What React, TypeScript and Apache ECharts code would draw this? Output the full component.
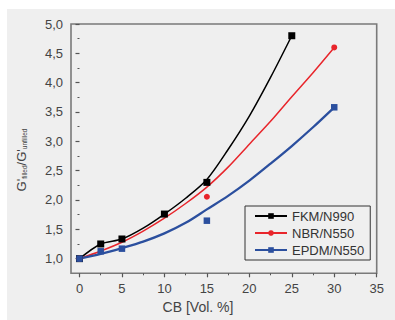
import React, { useEffect, useRef } from "react";
import * as echarts from "echarts";

// Measured data points
const cbFKM = [0, 2.5, 5, 10, 15, 25];
const valFKM = [1.0, 1.25, 1.335, 1.76, 2.3, 4.8];
const cbNBR = [0, 15, 30];
const valNBR = [1.0, 2.055, 4.6];
const cbEPDM = [0, 2.5, 5, 15, 30];
const valEPDM = [1.0, 1.125, 1.17, 1.647, 3.58];

// Curves
const cbCurveFKM = [0, 2.5, 5, 7.5, 10, 12.5, 15, 17.5, 20, 22.5, 25];
const curveFKM = [1.0, 1.25, 1.335, 1.52, 1.76, 2.03, 2.35, 2.86, 3.43, 4.09, 4.8];
const cbFit = [0, 2.5, 5, 7.5, 10, 12.5, 15, 17.5, 20, 22.5, 25, 27.5, 30];
const fitNBR = [1.0, 1.13, 1.28, 1.47, 1.69, 1.94, 2.22, 2.56, 2.95, 3.34, 3.76, 4.17, 4.6];
const fitEPDM = [1.0, 1.08, 1.18, 1.29, 1.43, 1.61, 1.84, 2.07, 2.33, 2.62, 2.92, 3.24, 3.58];

// Axes
const xMajor = [0, 5, 10, 15, 20, 25, 30, 35];
const xMinor = [2.5, 7.5, 12.5, 17.5, 22.5, 27.5, 32.5];
const yMajor = [1, 1.5, 2, 2.5, 3, 3.5, 4, 4.5, 5];
const yMinor = [1.25, 1.75, 2.25, 2.75, 3.25, 3.75, 4.25, 4.75];

const names = ["FKM/N990", "NBR/N550", "EPDM/N550"];
const RED = "#e8252b";
const BLUE = "#2b4f9e";
const FONT = "Liberation Sans, Arial, sans-serif";
const AXIS_COLOR = "#7a7a7a";
const TEXT_COLOR = "#444";

const zip = (xs: number[], ys: number[]) => xs.map((x, i) => [x, ys[i]]);

export default function App() {
  const ref = useRef<HTMLDivElement>(null);
  useEffect(() => {
    const chart = echarts.init(ref.current!, null, { renderer: "svg" });
    const xBase = { type: "value", min: -1, max: 35, gridIndex: 0, position: "bottom", splitLine: { show: false } };
    const yBase = { type: "value", min: 0.75, max: 5, gridIndex: 0, position: "left", splitLine: { show: false } };
    chart.setOption({
      animation: false,
      backgroundColor: "transparent",
      textStyle: { fontFamily: FONT },
      grid: {
        left: 71,
        right: 18.3,
        top: 24,
        bottom: 46.7,
        show: true,
        borderColor: AXIS_COLOR,
        borderWidth: 1.6,
        backgroundColor: "transparent",
      },
      xAxis: [
        {
          ...xBase,
          axisLine: { show: false },
          axisTick: { show: true, customValues: xMajor, length: 4, lineStyle: { color: "#555", width: 1.2 } },
          axisLabel: {
            customValues: xMajor,
            margin: 9,
            fontSize: 13,
            color: TEXT_COLOR,
            fontFamily: FONT,
          },
        },
        {
          ...xBase,
          axisLine: { show: false },
          axisTick: { show: true, customValues: xMinor, length: 2, lineStyle: { color: "#555", width: 1 } },
          axisLabel: { show: false },
        },
      ],
      yAxis: [
        {
          ...yBase,
          axisLine: { show: false },
          axisTick: { show: true, customValues: yMajor, length: 4, lineStyle: { color: "#555", width: 1.2 } },
          axisLabel: {
            customValues: yMajor,
            margin: 8,
            fontSize: 13,
            color: TEXT_COLOR,
            fontFamily: FONT,
            formatter: (v: number) => v.toFixed(1).replace(".", ","),
          },
        },
        {
          ...yBase,
          axisLine: { show: false },
          axisTick: { show: true, customValues: yMinor, length: 2, lineStyle: { color: "#555", width: 1 } },
          axisLabel: { show: false },
        },
      ],
      legend: {
        data: names,
        orient: "vertical",
        left: 245,
        top: 206,
        padding: [3, 6, 3, 9],
        itemWidth: 32,
        itemHeight: 7,
        itemGap: 3,
        borderColor: "#333",
        borderWidth: 1,
        backgroundColor: "transparent",
        lineStyle: { opacity: 1, width: 2 },
        textStyle: { fontSize: 13, color: "#333", fontFamily: FONT, lineHeight: 14 },
      },
      series: [
        {
          name: "FKM curve",
          type: "line",
          data: zip(cbCurveFKM, curveFKM),
          smooth: 0.3,
          symbol: "none",
          itemStyle: { color: "#000" },
          lineStyle: { color: "#000", width: 1.5 },
          z: 2,
        },
        {
          name: names[0],
          type: "line",
          data: zip(cbFKM, valFKM),
          symbol: "rect",
          symbolSize: 7,
          itemStyle: { color: "#000" },
          lineStyle: { color: "#000", width: 1.5, opacity: 0 },
          z: 3,
        },
        {
          name: "NBR fit",
          type: "line",
          data: zip(cbFit, fitNBR),
          smooth: 0.3,
          symbol: "none",
          itemStyle: { color: RED },
          lineStyle: { color: RED, width: 1.5 },
          z: 2,
        },
        {
          name: names[1],
          type: "line",
          data: zip(cbNBR, valNBR),
          symbol: "circle",
          symbolSize: 6,
          itemStyle: { color: RED },
          lineStyle: { color: RED, width: 1.5, opacity: 0 },
          z: 4,
        },
        {
          name: "EPDM fit",
          type: "line",
          data: zip(cbFit, fitEPDM),
          smooth: 0.3,
          symbol: "none",
          itemStyle: { color: BLUE },
          lineStyle: { color: BLUE, width: 2.3 },
          z: 2,
        },
        {
          name: names[2],
          type: "line",
          data: zip(cbEPDM, valEPDM),
          symbol: "rect",
          symbolSize: 6.5,
          itemStyle: { color: BLUE },
          lineStyle: { color: BLUE, width: 2.3, opacity: 0 },
          z: 5,
        },
      ],
      graphic: [
        {
          type: "text",
          x: 198,
          y: 307,
          style: {
            text: "CB [Vol. %]",
            fontSize: 14,
            fontFamily: FONT,
            fill: TEXT_COLOR,
            align: "center",
            verticalAlign: "middle",
          },
        },
        {
          type: "text",
          x: 21,
          y: 160,
          rotation: Math.PI / 2,
          style: {
            text: "G'{s|filled}/G'{s|unfilled}",
            fontSize: 13,
            fontFamily: FONT,
            fill: TEXT_COLOR,
            align: "center",
            verticalAlign: "middle",
            rich: {
              s: { fontSize: 6.5, fontFamily: FONT, fill: TEXT_COLOR, verticalAlign: "bottom", padding: [6, 0, 0, 0] },
            },
          },
        },
      ],
    });
    return () => chart.dispose();
  }, []);
  return (
    <div style={{ position: "absolute", left: 0, top: 0, width: 395, height: 320, background: "#fff" }}>
      <div style={{ position: "absolute", left: 7, top: 9, width: 388, height: 311, background: "#efefef" }} />
      <div ref={ref} style={{ position: "absolute", left: 0, top: 0, width: 395, height: 320 }} />
    </div>
  );
}
